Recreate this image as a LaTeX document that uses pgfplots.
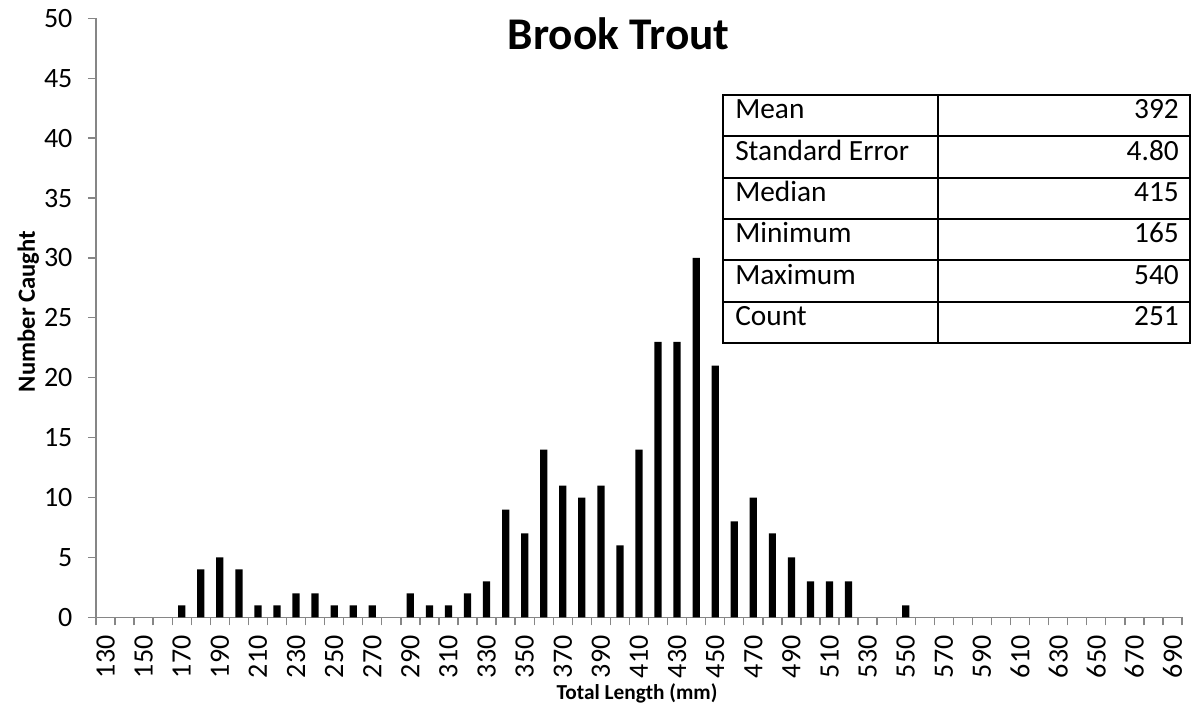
\documentclass[border=0pt]{standalone}
\usepackage{fontspec}
\setmainfont{Carlito}
\usepackage{pgfplots}
\pgfplotsset{compat=1.18}
\definecolor{axgray}{HTML}{868686}
\begin{document}
\begin{tikzpicture}
\begin{axis}[
  at={(0,0)}, anchor=south west,
  scale only axis, width=814.5pt, height=449.25pt,
  xmin=125, xmax=695, ymin=0, ymax=50,
  axis x line=bottom, axis y line=left,
  axis line style={draw=axgray, line width=1pt, -},
  xtick={130,150,...,690},
  minor xtick={125,135,...,695},
  ytick={0,5,...,50},
  tick align=outside,
  major tick length=6pt, minor tick length=6pt,
  major x tick style={draw=none},
  minor x tick style={draw=axgray, line width=1pt},
  major y tick style={draw=axgray, line width=1pt},
  /pgf/number format/assume math mode=true,
  /pgf/number format/1000 sep={},
  ticklabel style={font=\fontsize{21}{25}\selectfont, inner sep=0pt},
  xticklabel style={rotate=90, anchor=east},
  yticklabel style={anchor=east},
  yticklabel shift=11.5pt,
  xticklabel shift=7.5pt,
  xlabel={\textbf{Total Length (mm)}},
  ylabel={\textbf{Number Caught}},
  xlabel style={font=\fontsize{16}{19}\selectfont, at={(axis description cs:0.4982,-0.1364)}, anchor=base},
  ylabel style={font=\fontsize{18.5}{22}\selectfont, at={(axis description cs:-0.0562,0.5105)}, rotate=0, anchor=base},
  clip=false,
]
\addplot[ybar, fill=black, draw=none, bar width=3.8] coordinates {
(170,1)(180,4)(190,5)(200,4)(210,1)(220,1)(230,2)(240,2)(250,1)(260,1)(270,1)
(290,2)(300,1)(310,1)(320,2)(330,3)(340,9)(350,7)(360,14)(370,11)(380,10)(390,11)
(400,6)(410,14)(420,23)(430,23)(440,30)(450,21)(460,8)(470,10)(480,7)(490,5)
(500,3)(510,3)(520,3)(550,1)
};
\end{axis}
% title
\node[anchor=base, font=\fontsize{34}{40}\selectfont\bfseries] at (392pt,426pt) {Brook Trout};
% statistics table
\draw[line width=1.4pt] (470pt,205.7pt) rectangle (820.5pt,391.7pt);
\draw[line width=1.4pt] (631.5pt,205.7pt) -- (631.5pt,391.7pt);
\foreach \yy in {236.7,267.7,298.7,329.7,360.7}{
  \draw[line width=1.4pt] (470pt,\yy pt) -- (820.5pt,\yy pt);
}
\begin{scope}[every node/.style={font=\fontsize{22}{26}\selectfont, inner sep=0pt}]
\node[anchor=mid west] at (479.25pt,376.2pt) {Mean};
\node[anchor=mid east] at (812.25pt,376.2pt) {392};
\node[anchor=mid west] at (479.25pt,345.2pt) {Standard Error};
\node[anchor=mid east] at (812.25pt,345.2pt) {4.80};
\node[anchor=mid west] at (479.25pt,314.2pt) {Median};
\node[anchor=mid east] at (812.25pt,314.2pt) {415};
\node[anchor=mid west] at (479.25pt,283.2pt) {Minimum};
\node[anchor=mid east] at (812.25pt,283.2pt) {165};
\node[anchor=mid west] at (479.25pt,252.2pt) {Maximum};
\node[anchor=mid east] at (812.25pt,252.2pt) {540};
\node[anchor=mid west] at (479.25pt,221.2pt) {Count};
\node[anchor=mid east] at (812.25pt,221.2pt) {251};
\end{scope}
\pgfresetboundingbox
\path (-72pt,-68.8pt) rectangle (827.25pt,463pt);
\end{tikzpicture}
\end{document}
